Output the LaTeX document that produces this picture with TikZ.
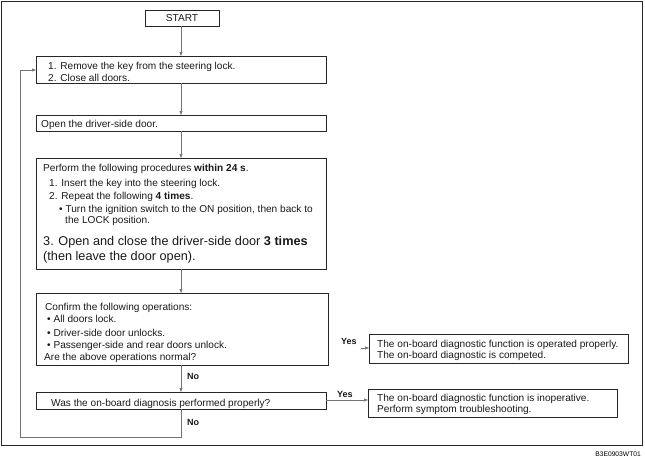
\documentclass[tikz,border=0pt]{standalone}
\usepackage{fontspec}
\setmainfont{Liberation Sans}
\usetikzlibrary{arrows.meta}
\begin{document}
\begin{tikzpicture}[x=1pt,y=-1pt,
  box/.style={draw=black!85,line width=0.7pt,anchor=north west,inner sep=0,outer sep=0},
  txt/.style={anchor=base west,inner sep=0,font=\fontsize{10.1}{12}\selectfont,text=black!90},
  big/.style={anchor=base west,inner sep=0,font=\fontsize{12.7}{15}\selectfont,text=black!90},
  lbl/.style={anchor=base west,inner sep=0,font=\fontsize{9}{11}\selectfont\bfseries,text=black!90},
  conn/.style={draw=black!55,line width=0.6pt},
  arr/.style={conn,-{Triangle[length=4pt,width=3pt]}}]
\useasboundingbox (0,0) rectangle (645,464);
\draw[black!85,line width=0.8pt] (1,1) rectangle (642,445);
\node[anchor=base east,inner sep=0,font=\fontsize{6.7}{8}\selectfont] (code) at (641,456) {B3E0903WT01};
% boxes
\node[box,minimum width=74pt,minimum height=16pt] (start) at (145,10) {};
\node[box,minimum width=290pt,minimum height=27pt] (b1) at (36,56) {};
\node[box,minimum width=290pt,minimum height=16pt] (b2) at (36,115) {};
\node[box,minimum width=290pt,minimum height=111pt] (b3) at (36,158) {};
\node[box,minimum width=292pt,minimum height=72pt] (b4) at (36,293) {};
\node[box,minimum width=290pt,minimum height=17pt] (b5) at (36,392) {};
\node[box,minimum width=259pt,minimum height=29pt] (y1) at (369,334) {};
\node[box,minimum width=249pt,minimum height=28pt] (y2) at (368,389) {};
% texts
\node[txt,anchor=center] (ts) at (start.center) {START};
\node[txt] (t11) at (48,69) {1. Remove the key from the steering lock.};
\node[txt] (t12) at (48,81) {2. Close all doors.};
\node[txt] (t21) at (41,127) {Open the driver-side door.};
\node[txt] (t31) at (43,171) {Perform the following procedures \textbf{within 24 s}.};
\node[txt] (t32) at (49,186) {1. Insert the key into the steering lock.};
\node[txt] (t33) at (49,199) {2. Repeat the following \textbf{4 times}.};
\node[txt] (t34) at (59,212) {\textbullet\ Turn the ignition switch to the ON position, then back to};
\node[txt] (t35) at (65,223) {the LOCK position.};
\node[big] (t36) at (43,245) {3. Open and close the driver-side door \textbf{3 times}};
\node[big] (t37) at (43,260) {(then leave the door open).};
\node[txt] (t41) at (45,310) {Confirm the following operations:};
\node[txt] (t42) at (47,322) {\textbullet\ All doors lock.};
\node[txt] (t43) at (47,336) {\textbullet\ Driver-side door unlocks.};
\node[txt] (t44) at (47,348) {\textbullet\ Passenger-side and rear doors unlock.};
\node[txt] (t45) at (44,360) {Are the above operations normal?};
\node[txt] (t51) at (51,406) {Was the on-board diagnosis performed properly?};
\node[txt] (ty11) at (377,347) {The on-board diagnostic function is operated properly.};
\node[txt] (ty12) at (377,358) {The on-board diagnostic is competed.};
\node[txt] (ty21) at (377,401) {The on-board diagnostic function is inoperative.};
\node[txt] (ty22) at (377,412) {Perform symptom troubleshooting.};
\node[lbl] (yes1) at (341,344) {Yes};
\node[lbl] (yes2) at (337,397) {Yes};
\node[lbl] (no1) at (187,379) {No};
\node[lbl] (no2) at (187,425) {No};
% connectors
\draw[arr] (start.south -| 181,0) -- (b1.north -| 181,0);
\draw[arr] (b1.south -| 181,0) -- (b2.north -| 181,0);
\draw[arr] (b2.south -| 181,0) -- (b3.north -| 181,0);
\draw[arr] (b3.south -| 181,0) -- (b4.north -| 181,0);
\draw[arr] (b4.south -| 181,0) -- (b5.north -| 181,0);
\coordinate (ystub) at (361,348);
\draw[arr] (ystub) -- (y1.west |- ystub);
\draw[arr] (b5.east |- 0,400) -- (y2.west |- 0,400);
\coordinate (lb) at (181,437);
\coordinate (ll) at (20,437);
\coordinate (lt) at (20,70);
\draw[arr] (b5.south -| lb) -- (lb) -- (ll) -- (lt) -- (b1.west |- lt);
\end{tikzpicture}
\end{document}
